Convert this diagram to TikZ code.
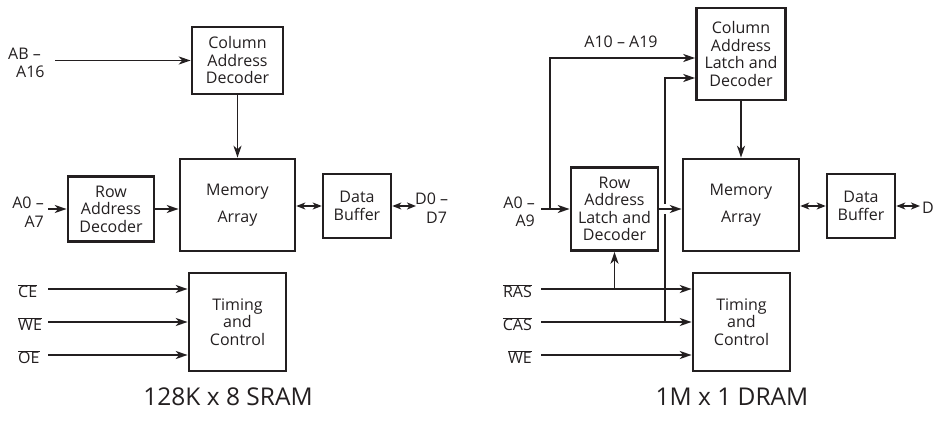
\documentclass[tikz,border=0pt]{standalone}
\usepackage{fontspec}
\setmainfont{Open Sans}
\usetikzlibrary{arrows.meta}
\definecolor{ink}{RGB}{35,31,32}
\newcommand{\ovl}[1]{$\overline{\hbox{#1}}$}
\tikzset{
  blk/.style={draw=ink, line width=2.6pt, inner sep=0pt, align=center, text=ink,
              font=\fontsize{16}{17.5}\selectfont},
  sig/.style={-{Stealth[length=12pt,width=8pt,inset=3.5pt]}, ink, line width=1.6pt},
  wire/.style={ink, line width=1.6pt},
  dbl/.style={{Stealth[length=9pt,width=7pt,inset=2.5pt]}-{Stealth[length=9pt,width=7pt,inset=2.5pt]},
              ink, line width=1.6pt},
  lbl/.style={inner sep=0pt, text=ink, font=\fontsize{16}{18.5}\selectfont},
  capt/.style={inner sep=0pt, text=ink, font=\fontsize{24.5}{28}\selectfont},
}
\begin{document}
\begin{tikzpicture}[x=1pt, y=-1pt]
  \useasboundingbox (0,0) rectangle (937,422);

  % 128K x 8 SRAM
  \node[blk, minimum width=91, minimum height=67] (coldec) at (237.5,60.5) {Column\\Address\\Decoder};
  \node[blk, minimum width=115, minimum height=92] (mem) at (237.5,205) {Memory\\[10pt]Array};
  \node[blk, minimum width=86, minimum height=65] (rowdec) at (111,209) {Row\\Address\\Decoder};
  \node[blk, minimum width=68, minimum height=64] (buf) at (357,206) {Data\\Buffer};
  \node[blk, minimum width=97, minimum height=98] (tim) at (237.5,322) {Timing\\and\\Control};

  \node[lbl, anchor=west, align=left] (lab) at (8,63) {AB –\\\hspace*{8pt}A16};
  \node[lbl, anchor=east, align=right] (laa) at (44,212) {A0 –\\A7};
  \node[lbl, anchor=west, align=left] (lad) at (415,208) {D0 –\\\hspace*{11pt}D7};
  \node[lbl, anchor=west] (lce) at (18,291) {\ovl{CE}};
  \node[lbl, anchor=west] (lwe) at (18,324) {\ovl{WE}};
  \node[lbl, anchor=west] (loe) at (18,357) {\ovl{OE}};

  \coordinate (abin) at (55,60.5);
  \coordinate (aain) at (48,209);
  \coordinate (dout) at (416,206);
  \coordinate (cein) at (48,289);
  \coordinate (wein) at (48,322);
  \coordinate (oein) at (48,355);

  \draw[sig] (abin) -- (coldec);
  \draw[sig] (coldec) -- (mem);
  \draw[sig] (aain) -- (rowdec);
  \draw[sig] (rowdec) -- (rowdec -| mem.west);
  \draw[dbl] (buf -| mem.east) -- (buf);
  \draw[dbl] (buf) -- (dout);
  \draw[sig] (cein) -- (cein -| tim.west);
  \draw[sig] (wein) -- (tim);
  \draw[sig] (oein) -- (oein -| tim.west);

  \node[capt, anchor=base] (tsram) at (228,405) {128K x 8 SRAM};

  % 1M x 1 DRAM
  \node[blk, minimum width=89, minimum height=92] (collat) at (741,54) {Column\\Address\\Latch and\\Decoder};
  \node[blk, minimum width=116, minimum height=92] (mem2) at (741,205) {Memory\\[10pt]Array};
  \node[blk, minimum width=87, minimum height=83] (rowlat) at (614.5,209) {Row\\Address\\Latch and\\Decoder};
  \node[blk, minimum width=68, minimum height=64] (buf2) at (861,206) {Data\\Buffer};
  \node[blk, minimum width=97, minimum height=98] (tim2) at (741.5,322) {Timing\\and\\Control};

  \node[lbl] (lhi) at (621,42) {A10 – A19};
  \node[lbl, anchor=east, align=right] (llo) at (535,212) {A0 –\\A9};
  \node[lbl, anchor=west] (ld) at (922,208) {D};
  \node[lbl, anchor=east] (lras) at (532,291) {\ovl{RAS}};
  \node[lbl, anchor=east] (lcas) at (532,324) {\ovl{CAS}};
  \node[lbl, anchor=east] (lwe2) at (532,357) {\ovl{WE}};

  \coordinate (loin) at (541,209);
  \coordinate (split) at (550,209);
  \coordinate (dout2) at (920,206);
  \coordinate (rasin) at (541,289);
  \coordinate (casin) at (541,322);
  \coordinate (wein2) at (541,355);
  \coordinate (casup) at (665,322);
  \coordinate (hopb) at (665,214);
  \coordinate (hopt) at (665,204);

  \draw[sig] (loin) -- (rowlat);
  \draw[sig] (split) |- ([yshift=-4pt]collat.west);
  \draw[sig] (collat) -- (mem2);
  \draw[sig] (rowlat) -- (rowlat -| mem2.west);
  \draw[dbl] (buf2 -| mem2.east) -- (buf2);
  \draw[dbl] (buf2) -- (dout2);
  \draw[sig] (rasin) -- (rasin -| tim2.west);
  \draw[sig] (rasin -| rowlat.south) -- (rowlat.south);
  \draw[sig] (casin) -- (tim2);
  \draw[wire] (casup) -- (hopb);
  \draw[sig] (hopt) |- ([yshift=-24pt]collat.west);
  \draw[sig] (wein2) -- (wein2 -| tim2.west);

  \node[capt, anchor=base] (tdram) at (732,405) {1M x 1 DRAM};
\end{tikzpicture}
\end{document}
